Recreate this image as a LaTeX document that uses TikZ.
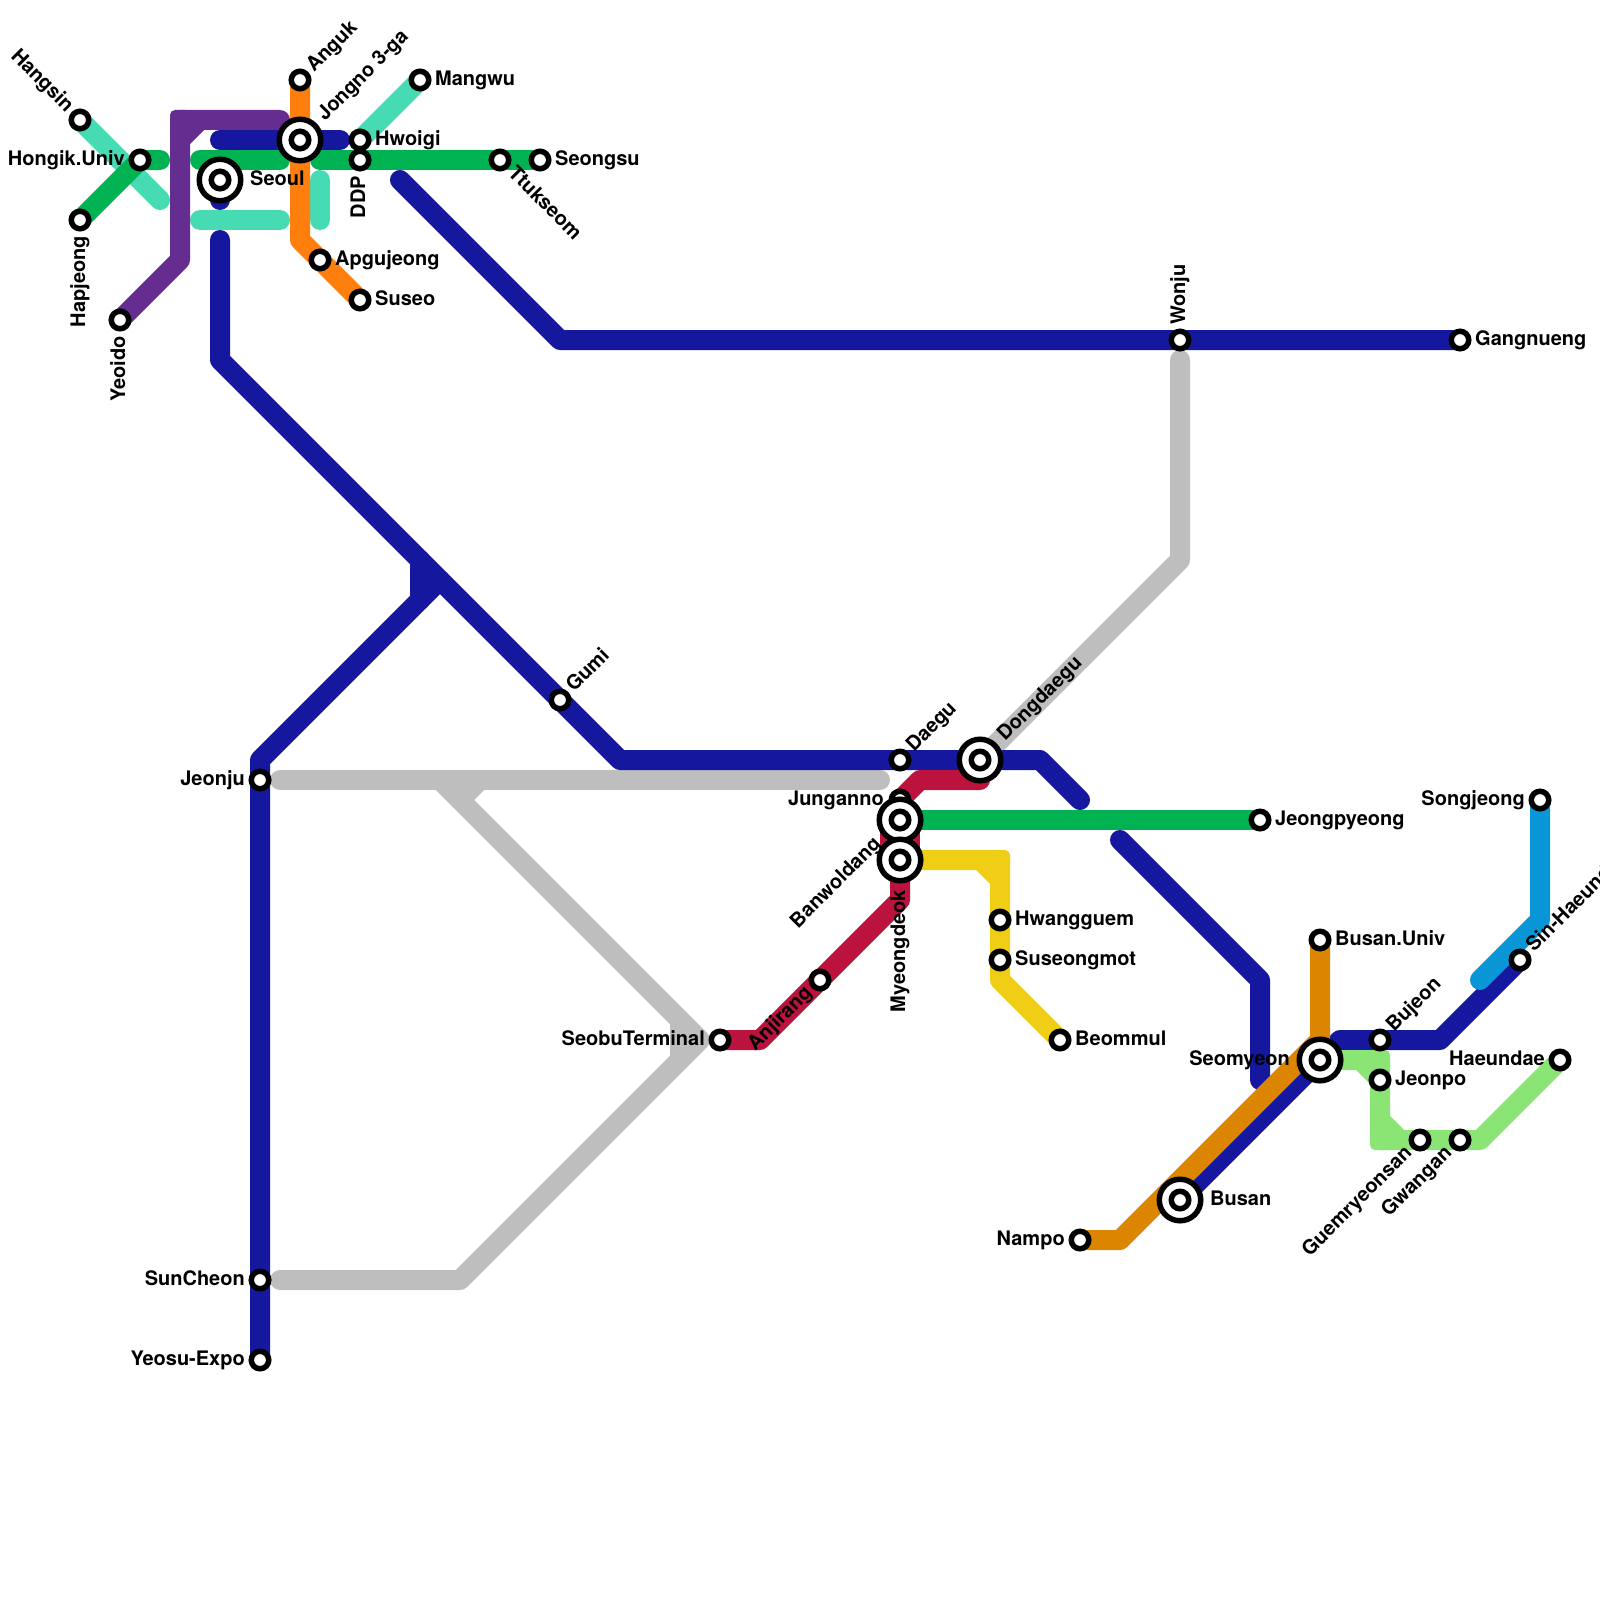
\documentclass[tikz,border=0pt]{standalone}
\usepackage{fontspec}
\setmainfont{TeX Gyre Heros}
\usetikzlibrary{backgrounds}
\definecolor{cblue}{HTML}{15179F}
\definecolor{cgreen}{HTML}{00B251}
\definecolor{cteal}{HTML}{46DBB3}
\definecolor{corange}{HTML}{FF7F0E}
\definecolor{cpurple}{HTML}{662D91}
\definecolor{ccrim}{HTML}{BC133E}
\definecolor{cgray}{HTML}{BEBEBE}
\definecolor{cyellow}{HTML}{F0CE15}
\definecolor{cbrown}{HTML}{DC8500}
\definecolor{clgreen}{HTML}{8AE574}
\definecolor{csky}{HTML}{0896D7}
\tikzset{
  metro/.style={draw=#1,line width=20pt,line cap=round,line join=round},
  stn/.style={circle,draw=black,fill=white,line width=5.5pt,minimum size=17.5pt,inner sep=0pt},
  bigstn/.style={circle,draw=black,fill=white,line width=5.5pt,minimum size=41.5pt,inner sep=0pt},
  lbl/.style={font=\bfseries\fontsize{20}{24}\selectfont,inner sep=0pt,text=black},
  rl/.style={lbl,anchor=base west},
  ll/.style={lbl,anchor=base east},
  up/.style={lbl,anchor=base west,rotate=90},
  dn/.style={lbl,anchor=base east,rotate=90},
  ne/.style={lbl,anchor=base west,rotate=45},
  sw/.style={lbl,anchor=base east,rotate=45},
  nw/.style={lbl,anchor=base east,rotate=-45},
  se/.style={lbl,anchor=base west,rotate=-45},
  sq/.style={fill=#1,rounded corners=5pt},
  cham/.style={fill=#1}
}
\begin{document}
\begin{tikzpicture}[x=1pt,y=-1pt]
\useasboundingbox (0,0) rectangle (1600,1600);
% stations
\node[stn] (hangsin) at (80,120) {};
\node[stn] (hongik) at (140,160) {};
\node[stn] (hapjeong) at (80,220) {};
\node[stn] (yeoido) at (120,320) {};
\node[bigstn] (seoul) at (220,180) {};
\node[stn] (seoulc) at (220,180) {};
\node[stn] (anguk) at (300,80) {};
\node[bigstn] (jongno) at (300,140) {};
\node[stn] (jongnoc) at (300,140) {};
\node[stn] (mangwu) at (420,80) {};
\node[stn] (hwoigi) at (360,140) {};
\node[stn] (ddp) at (360,160) {};
\node[stn] (ttukseom) at (500,160) {};
\node[stn] (seongsu) at (540,160) {};
\node[stn] (apgujeong) at (320,260) {};
\node[stn] (suseo) at (360,300) {};
\node[stn] (wonju) at (1180,340) {};
\node[stn] (gangnueng) at (1460,340) {};
\node[stn] (gumi) at (560,700) {};
\node[stn] (jeonju) at (260,780) {};
\node[stn] (suncheon) at (260,1280) {};
\node[stn] (yeosu) at (260,1360) {};
\node[stn] (daegu) at (900,760) {};
\node[bigstn] (dongdaegu) at (980,760) {};
\node[stn] (dongdaeguc) at (980,760) {};
\node[stn] (junganno) at (900,800) {};
\node[bigstn] (banwoldang) at (900,820) {};
\node[stn] (banwoldangc) at (900,820) {};
\node[bigstn] (myeongdeok) at (900,860) {};
\node[stn] (myeongdeokc) at (900,860) {};
\node[stn] (anjirang) at (820,980) {};
\node[stn] (seobu) at (720,1040) {};
\node[stn] (hwangguem) at (1000,920) {};
\node[stn] (suseongmot) at (1000,960) {};
\node[stn] (beommul) at (1060,1040) {};
\node[stn] (jeongpyeong) at (1260,820) {};
\node[stn] (busanuniv) at (1320,940) {};
\node[stn] (bujeon) at (1380,1040) {};
\node[stn] (jeonpo) at (1380,1080) {};
\node[bigstn] (seomyeon) at (1320,1060) {};
\node[stn] (seomyeonc) at (1320,1060) {};
\node[bigstn] (busan) at (1180,1200) {};
\node[stn] (busanc) at (1180,1200) {};
\node[stn] (nampo) at (1080,1240) {};
\node[stn] (guemryeonsan) at (1420,1140) {};
\node[stn] (gwangan) at (1460,1140) {};
\node[stn] (haeundae) at (1560,1060) {};
\node[stn] (songjeong) at (1540,800) {};
\node[stn] (sinhaeundae) at (1520,960) {};
% lines
\begin{scope}[on background layer]
  % grey
  \draw[metro=cgray] (280,780) -- (880,780);
  \draw[metro=cgray] (280,1280) -- (460,1280) -- (700,1040) -- (440,780);
  \draw[metro=cgray] (680,1020) -- (680,1060);
  \draw[metro=cgray] (460,800) -- (480,780);
  \draw[metro=cgray] (dongdaegu.center) -- (1180,560) -- (1180,360);
  % teal
  \draw[metro=cteal] (hangsin.center) -- (160,200);
  \draw[metro=cteal] (mangwu.center) -- (hwoigi.center);
  \draw[metro=cteal] (200,220) -- (280,220);
  \draw[metro=cteal] (320,180) -- (320,220);
  % blue
  \draw[metro=cblue] (220,140) -- (340,140);
  \draw[metro=cblue] (seoul.center) -- (220,200);
  \draw[metro=cblue] (220,240) -- (220,360) -- (620,760) -- (1040,760) -- (1080,800);
  \draw[metro=cblue] (400,180) -- (560,340) -- (gangnueng.center);
  \draw[metro=cblue] (yeosu.center) -- (260,760) -- (440,580);
  \draw[metro=cblue] (420,600) -- (420,560);
  \draw[metro=cblue] (1120,840) -- (1260,980) -- (1260,1080);
  \draw[metro=cblue] (busan.center) -- (1340,1040) -- (1440,1040) -- (sinhaeundae.center);
  % green
  \draw[metro=cgreen] (hapjeong.center) -- (hongik.center) -- (160,160);
  \draw[metro=cgreen] (200,160) -- (280,160);
  \draw[metro=cgreen] (320,160) -- (seongsu.center);
  \draw[metro=cgreen] (banwoldang.center) -- (jeongpyeong.center);
  % purple
  \draw[metro=cpurple] (yeoido.center) -- (180,260) -- (180,120) -- (280,120);
  \fill[sq=cpurple] (170,110) rectangle (190,130);
  \fill[cham=cpurple] (190,130) -- (204,130) -- (190,144) -- cycle;
  % orange
  \draw[metro=corange] (anguk.center) -- (300,240) -- (suseo.center);
  % crimson
  \draw[metro=ccrim] (seobu.center) -- (760,1040) -- (900,900) -- (myeongdeok.center);
  \draw[metro=ccrim] (junganno.center) -- (920,780) -- (980,780);
  \draw[ccrim,line width=40pt] (900,828) -- (900,852);
  % yellow
  \draw[metro=cyellow] (myeongdeok.center) -- (1000,860) -- (1000,980) -- (beommul.center);
  \fill[sq=cyellow] (990,850) rectangle (1010,870);
  \fill[cham=cyellow] (990,870) -- (976,870) -- (990,884) -- cycle;
  % brown
  \draw[metro=cbrown] (nampo.center) -- (1120,1240) -- (1320,1040) -- (busanuniv.center);
  % light green
  \draw[metro=clgreen] (seomyeon.center) -- (1380,1060) -- (1380,1140) -- (1480,1140) -- (haeundae.center);
  \fill[sq=clgreen] (1370,1050) rectangle (1390,1070);
  \fill[cham=clgreen] (1370,1070) -- (1356,1070) -- (1370,1084) -- cycle;
  \fill[sq=clgreen] (1370,1130) rectangle (1390,1150);
  \fill[cham=clgreen] (1390,1130) -- (1390,1116) -- (1404,1130) -- cycle;
  % sky
  \draw[metro=csky] (songjeong.center) -- (1540,920) -- (1480,980);
\end{scope}
% labels
\node[nw] (t1) at (66,113) {Hangsin};
\node[ll] (t2) at (125,165) {Hongik.Univ};
\node[dn] (t3) at (85,236) {Hapjeong};
\node[dn] (t4) at (125,336) {Yeoido};
\node[rl] (t5) at (250,185) {Seoul};
\node[ne] (t6) at (314,73) {Anguk};
\node[ne] (t7) at (325,122) {Jongno 3-ga};
\node[rl] (t8) at (435,86) {Mangwu};
\node[rl] (t9) at (375,146) {Hwoigi};
\node[dn] (t10) at (365,176) {DDP};
\node[se] (t11) at (507,174) {Ttukseom};
\node[rl] (t12) at (555,165) {Seongsu};
\node[rl] (t13) at (335,265) {Apgujeong};
\node[rl] (t14) at (375,305) {Suseo};
\node[up] (t15) at (1185,325) {Wonju};
\node[rl] (t16) at (1475,345) {Gangnueng};
\node[ne] (t17) at (574,693) {Gumi};
\node[ll] (t18) at (245,785) {Jeonju};
\node[ll] (t19) at (245,1285) {SunCheon};
\node[ll] (t20) at (245,1365) {Yeosu-Expo};
\node[ne] (t21) at (914,753) {Daegu};
\node[ne] (t22) at (1005,742) {Dongdaegu};
\node[ll] (t23) at (884,805) {Junganno};
\node[sw] (t24) at (882,845) {Banwoldang};
\node[dn] (t25) at (905,890) {Myeongdeok};
\node[sw] (t26) at (813,994) {Anjirang};
\node[ll] (t27) at (705,1045) {SeobuTerminal};
\node[rl] (t28) at (1015,925) {Hwangguem};
\node[rl] (t29) at (1015,965) {Suseongmot};
\node[rl] (t30) at (1075,1045) {Beommul};
\node[rl] (t31) at (1275,825) {Jeongpyeong};
\node[rl] (t32) at (1335,945) {Busan.Univ};
\node[ne] (t33) at (1394,1033) {Bujeon};
\node[rl] (t34) at (1395,1085) {Jeonpo};
\node[ll] (t35) at (1290,1065) {Seomyeon};
\node[rl] (t36) at (1210,1205) {Busan};
\node[ll] (t37) at (1065,1245) {Nampo};
\node[sw] (t38) at (1413,1154) {Guemryeonsan};
\node[sw] (t39) at (1453,1154) {Gwangan};
\node[ll] (t40) at (1545,1065) {Haeundae};
\node[ll] (t41) at (1525,805) {Songjeong};
\node[ne] (t42) at (1534,953) {Sin-Haeundae};
\end{tikzpicture}
\end{document}
